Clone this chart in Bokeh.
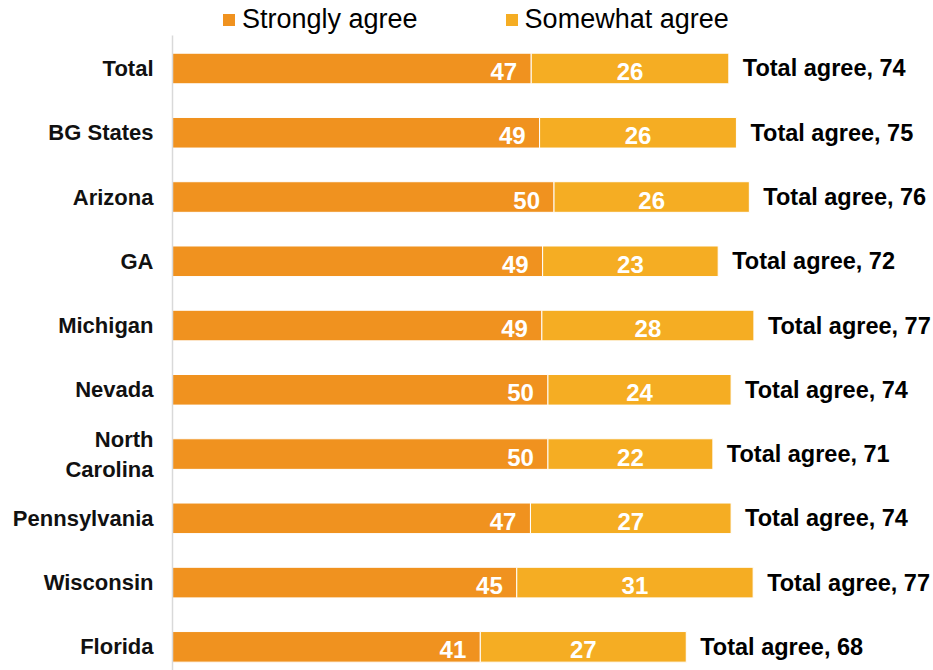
from bokeh.plotting import figure
from bokeh.layouts import column
from bokeh.models import (ColumnDataSource, Range1d, FixedTicker, Legend, LegendItem)
from bokeh.core.properties import value
from bokeh.embed import file_html
from bokeh.resources import INLINE

# ---- data ----
categories = ["Total", "BG States", "Arizona", "GA", "Michigan", "Nevada",
              "North\nCarolina", "Pennsylvania", "Wisconsin", "Florida"]
series_names = ["Strongly agree", "Somewhat agree"]
# bar lengths
strongly = [47.2, 48.3, 50.2, 48.7, 48.6, 49.4, 49.4, 47.1, 45.3, 40.5]
somewhat = [26.0, 25.9, 25.7, 23.1, 27.9, 24.1, 21.7, 26.4, 31.1, 27.1]
# printed labels
strongly_lbl = [47, 49, 50, 49, 49, 50, 50, 47, 45, 41]
somewhat_lbl = [26, 26, 26, 23, 28, 24, 22, 27, 31, 27]
total_lbl = [74, 75, 76, 72, 77, 74, 71, 74, 77, 68]

ORANGE = "#F0921F"
YELLOW = "#F5AD23"
FONT = "Liberation Sans"

ypos = list(range(len(categories)))
ends = [a + b for a, b in zip(strongly, somewhat)]
src = ColumnDataSource(dict(
    y=ypos, strong=strongly, some=somewhat, end=ends,
    mid=[a + b / 2 for a, b in zip(strongly, somewhat)],
    s_lbl=[str(v) for v in strongly_lbl],
    w_lbl=[str(v) for v in somewhat_lbl],
    t_lbl=[f"Total agree, {v}" for v in total_lbl],
))

W = 933
LEG_FIG_H = 35
H = 670 - LEG_FIG_H
LEFT = 172

# ---- legend strip (its frame is aligned with the main frame by the column) ----
lf = figure(width=W, height=LEG_FIG_H, output_backend="svg", toolbar_location=None,
            x_range=Range1d(0, 100), y_range=Range1d(100, 101),
            min_border_left=LEFT, min_border_right=0, min_border_top=0,
            min_border_bottom=0)
lf.axis.visible = False
lf.grid.visible = False
lf.outline_line_color = None
d1 = lf.hbar(y="y", left=0, right="strong", height=0.5, source=src,
             fill_color=ORANGE, line_color=ORANGE, line_width=0)
d2 = lf.hbar(y="y", left="strong", right="end", height=0.5, source=src,
             fill_color=YELLOW, line_color=YELLOW, line_width=0)
legend = Legend(items=[LegendItem(label=series_names[0], renderers=[d1]),
                       LegendItem(label=series_names[1], renderers=[d2])],
                orientation="horizontal", location=(49, 0),
                glyph_width=15, glyph_height=15, label_standoff=6, spacing=86,
                padding=0, margin=0, border_line_color=None,
                background_fill_alpha=0,
                label_text_font=FONT, label_text_font_size="27px",
                label_text_color="black")
lf.add_layout(legend)

# ---- main chart ----
p = figure(width=W, height=H, output_backend="svg", toolbar_location=None,
           x_range=Range1d(0, (W - LEFT) / 7.6), y_range=Range1d(9.368, -0.5135),
           min_border_left=LEFT, min_border_right=0, min_border_bottom=0,
           min_border_top=0)
p.outline_line_color = None
p.grid.visible = False
p.xaxis.visible = False
p.background_fill_color = "white"
p.border_fill_color = "white"

BAR_H = 0.476
p.hbar(y="y", left=0, right="strong", height=BAR_H, source=src,
       fill_color=ORANGE, line_color="white", line_width=1)
p.hbar(y="y", left="strong", right="end", height=BAR_H, source=src,
       fill_color=YELLOW, line_color="white", line_width=1)

p.text(x="strong", y="y", text="s_lbl", source=src, text_align="right",
       text_baseline="middle", x_offset=-14, y_offset=3, text_color="white",
       text_font=value(FONT), text_font_style="bold", text_font_size="24px")
p.text(x="mid", y="y", text="w_lbl", source=src, text_align="center",
       text_baseline="middle", y_offset=3, text_color="white",
       text_font=value(FONT), text_font_style="bold", text_font_size="24px")
p.text(x="end", y="y", text="t_lbl", source=src, text_align="left",
       text_baseline="middle", x_offset=14, text_color="black",
       text_font=value(FONT), text_font_style="bold", text_font_size="23.5px")

ax = p.yaxis[0]
ax.ticker = FixedTicker(ticks=ypos)
ax.major_label_overrides = {i: c for i, c in enumerate(categories)}
ax.major_tick_line_color = None
ax.minor_tick_line_color = None
ax.major_tick_out = 0
ax.major_tick_in = 0
ax.axis_line_color = "#D9D9D9"
ax.axis_line_width = 1.5
ax.major_label_standoff = 19
ax.major_label_text_font = FONT
ax.major_label_text_font_style = "bold"
ax.major_label_text_font_size = "22px"
ax.major_label_text_color = "#111111"

layout = column(lf, p, spacing=0)
open("out.html", "w").write(file_html(layout, INLINE))
